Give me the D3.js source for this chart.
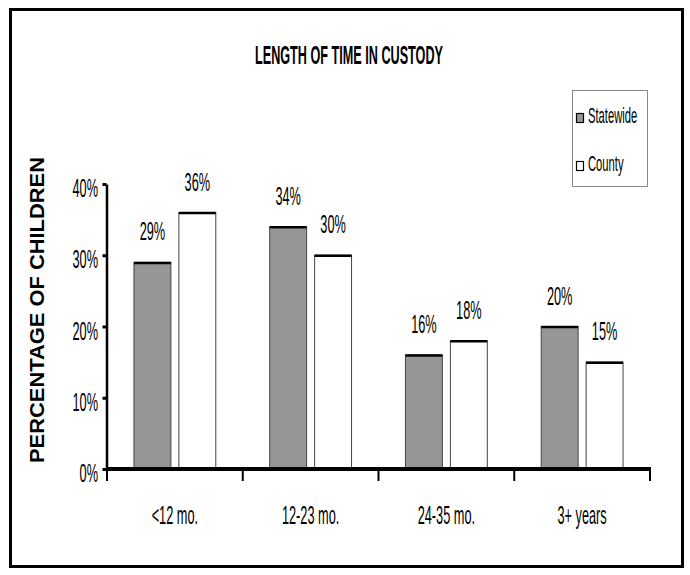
<!DOCTYPE html>
<html>
<head>
<meta charset="utf-8">
<script src="https://cdn.jsdelivr.net/npm/d3@7"></script>
<style>
  html, body { margin: 0; padding: 0; background: #fff; }
  text { font-family: "Liberation Sans", Arial, sans-serif; fill: #000; }
</style>
</head>
<body>
<svg id="chart" width="690" height="575"></svg>
<script>
// Length of time in custody, share of children by group
const categories = ["<12 mo.", "12-23 mo.", "24-35 mo.", "3+ years"];
const seriesNames = ["Statewide", "County"];
const statewide = [29, 34, 16, 20];
const county = [36, 30, 18, 15];
const yTicks = [0, 10, 20, 30, 40];
const yTickLabels = ["0%", "10%", "20%", "30%", "40%"];
const seriesFill = { Statewide: "#969696", County: "#ffffff" };

const svg = d3.select("#chart");
const W = 690, H = 575;
const SX = 0.51;          // horizontal squeeze for the narrow lettering
const FS = 25;            // size of the narrow lettering

svg.append("rect").attr("width", W).attr("height", H).attr("fill", "#fff");

// page frame
svg.append("rect")
  .attr("x", 10.5).attr("y", 9.5).attr("width", 672).attr("height", 557)
  .attr("fill", "none").attr("stroke", "#000").attr("stroke-width", 3);

const plot = { left: 107, right: 650, top: 184, bottom: 469 };

const x = d3.scaleBand().domain(categories).range([plot.left, plot.right]).padding(0);
const xs = d3.scaleBand().domain(seriesNames).range([0, x.bandwidth()])
  .paddingInner(0.178).paddingOuter(0.6);
const y = d3.scaleLinear().domain([0, 40]).range([plot.bottom, plot.top]);

const rows = categories.map((c, i) => ({ cat: c, Statewide: statewide[i], County: county[i] }));

function narrow(parent, px, py, str, anchor, size) {
  const g = parent.append("g").attr("transform", `translate(${px},${py}) scale(${SX},1)`);
  g.append("text").attr("text-anchor", anchor).attr("font-size", size).text(str);
  return g;
}

// title
svg.append("text")
  .attr("x", 349).attr("y", 64)
  .attr("text-anchor", "middle")
  .attr("font-size", 26).attr("font-weight", "bold")
  .attr("textLength", 188).attr("lengthAdjust", "spacingAndGlyphs")
  .text("LENGTH OF TIME IN CUSTODY");

// y-axis title
svg.append("text")
  .attr("transform", "translate(44,310) rotate(-90)")
  .attr("text-anchor", "middle")
  .attr("font-size", 21).attr("font-weight", "bold")
  .attr("textLength", 306).attr("lengthAdjust", "spacingAndGlyphs")
  .text("PERCENTAGE OF CHILDREN");

// bars
const groups = svg.append("g").selectAll("g").data(rows).join("g")
  .attr("transform", d => `translate(${x(d.cat)},0)`);

seriesNames.forEach(s => {
  groups.append("rect")
    .attr("x", xs(s)).attr("y", d => y(d[s]))
    .attr("width", xs.bandwidth()).attr("height", d => y(0) - y(d[s]))
    .attr("fill", seriesFill[s]).attr("stroke", "#444").attr("stroke-width", 1);
  groups.append("line")
    .attr("x1", xs(s)).attr("x2", xs(s) + xs.bandwidth())
    .attr("y1", d => y(d[s]) + 0.5).attr("y2", d => y(d[s]) + 0.5)
    .attr("stroke", "#000").attr("stroke-width", 2.5);
  groups.each(function (d) {
    narrow(d3.select(this), xs(s) + xs.bandwidth() / 2, y(d[s]) - 22, d[s] + "%", "middle", FS);
  });
});

// y axis
const yAxis = svg.append("g")
  .attr("transform", `translate(${plot.left - 0.5},0)`)
  .call(d3.axisLeft(y).tickValues(yTicks).tickFormat((d, i) => yTickLabels[i])
    .tickSize(4).tickSizeOuter(0).tickPadding(8));
yAxis.select(".domain").attr("stroke", "#000").attr("stroke-width", 2.5);
yAxis.selectAll(".tick line").attr("stroke", "#000").attr("stroke-width", 3);
yAxis.selectAll(".tick text")
  .attr("font-size", FS).attr("font-family", null)
  .attr("x", -8.5 / SX).attr("dy", null).attr("y", 12.5)
  .attr("transform", `scale(${SX},1)`);

// x axis: category labels centred in each band
const xAxis = svg.append("g")
  .attr("transform", `translate(0,${plot.bottom})`)
  .call(d3.axisBottom(x).tickSize(0).tickPadding(0));
xAxis.select(".domain").remove();
xAxis.selectAll(".tick text")
  .attr("font-size", FS).attr("font-family", null)
  .attr("dy", null).attr("y", 55)
  .attr("transform", `scale(${SX},1)`)
  .attr("x", 0);

// x axis baseline and band boundary ticks
const bounds = categories.map(c => x(c)).concat([x(categories[categories.length - 1]) + x.bandwidth()]);
svg.append("g").selectAll("line").data(bounds).join("line")
  .attr("x1", d => d).attr("x2", d => d)
  .attr("y1", plot.bottom).attr("y2", plot.bottom + 12)
  .attr("stroke", "#000").attr("stroke-width", 2);
svg.append("line")
  .attr("x1", plot.left - 1).attr("x2", plot.right + 1)
  .attr("y1", plot.bottom).attr("y2", plot.bottom)
  .attr("stroke", "#000").attr("stroke-width", 4);

// legend
const legend = svg.append("g");
legend.append("rect")
  .attr("x", 572.5).attr("y", 90.5).attr("width", 75).attr("height", 96)
  .attr("fill", "#fff").attr("stroke", "#888").attr("stroke-width", 1);
const legendY = { Statewide: 113, County: 161 };
seriesNames.forEach(s => {
  legend.append("rect")
    .attr("x", 576.5).attr("y", legendY[s] + 0.5).attr("width", 7).attr("height", 9)
    .attr("fill", seriesFill[s]).attr("stroke", "#000").attr("stroke-width", 1.2);
  narrow(legend, 588, legendY[s] + 10, s, "start", 22);
});
</script>
</body>
</html>
